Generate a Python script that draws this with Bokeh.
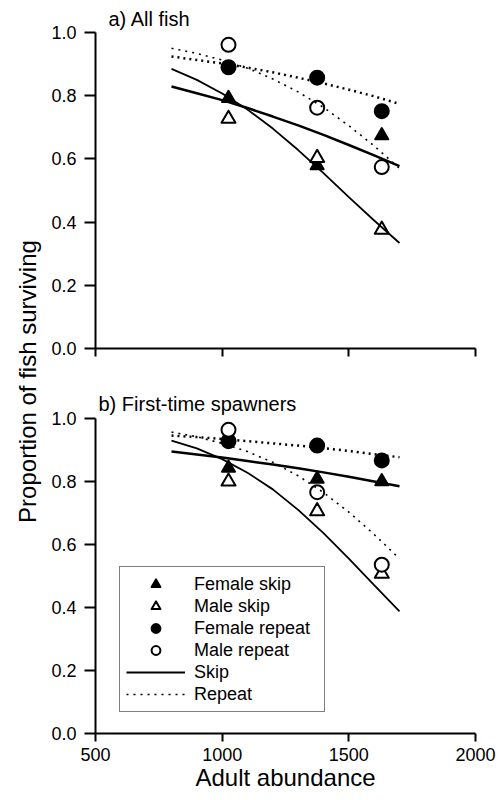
from bokeh.plotting import figure
from bokeh.layouts import row, column
from bokeh.models import Range1d, FixedTicker, Legend, LegendItem, Label
from bokeh.embed import file_html
from bokeh.resources import INLINE

FONT = "Liberation Sans"

x_ticks = [500, 1000, 1500, 2000]
x_tick_labels = ["500", "1000", "1500", "2000"]
y_ticks = [0.0, 0.2, 0.4, 0.6, 0.8, 1.0]
y_tick_labels = ["0.0", "0.2", "0.4", "0.6", "0.8", "1.0"]

# observed proportions
abundance = [1025, 1375, 1630]

a_female_skip = [0.792, 0.579, 0.674]
a_male_skip = [0.727, 0.603, 0.376]
a_female_repeat = [0.890, 0.857, 0.751]
a_male_repeat = [0.961, 0.762, 0.574]

b_female_skip = [0.843, 0.808, 0.800]
b_male_skip = [0.800, 0.706, 0.507]
b_female_repeat = [0.928, 0.914, 0.867]
b_male_repeat = [0.964, 0.766, 0.536]

# fitted curves
fit_x = [800, 900, 1000, 1100, 1200, 1300, 1400, 1500, 1600, 1700]

a_skip_fit_thick = [0.829, 0.808, 0.786, 0.761, 0.734, 0.706, 0.676, 0.644, 0.611, 0.577]
a_skip_fit_thin = [0.885, 0.850, 0.807, 0.756, 0.696, 0.628, 0.555, 0.479, 0.405, 0.334]
a_repeat_fit_thick = [0.924, 0.913, 0.902, 0.889, 0.874, 0.857, 0.839, 0.819, 0.798, 0.774]
a_repeat_fit_thin = [0.950, 0.934, 0.913, 0.887, 0.853, 0.812, 0.763, 0.705, 0.641, 0.570]

b_skip_fit_thick = [0.895, 0.886, 0.876, 0.865, 0.854, 0.842, 0.829, 0.815, 0.800, 0.785]
b_skip_fit_thin = [0.930, 0.905, 0.871, 0.828, 0.775, 0.710, 0.636, 0.555, 0.471, 0.388]
b_repeat_fit_thick = [0.946, 0.941, 0.935, 0.928, 0.921, 0.914, 0.906, 0.897, 0.887, 0.877]
b_repeat_fit_thin = [0.957, 0.942, 0.921, 0.895, 0.861, 0.818, 0.765, 0.703, 0.632, 0.555]

legend_labels = ["Female skip", "Male skip", "Female repeat", "Male repeat", "Skip", "Repeat"]


def panel(height, top, bottom, title, title_offset, title_standoff, show_xlabels):
    p = figure(width=455, height=height, x_range=Range1d(500, 2000), y_range=Range1d(0, 1),
               output_backend="svg", toolbar_location=None,
               min_border_left=50, min_border_right=25, min_border_top=top, min_border_bottom=bottom,
               title=title)
    p.title.text_font = FONT
    p.title.text_font_size = "20px"
    p.title.text_font_style = "normal"
    p.title.text_color = "black"
    p.title.align = "left"
    p.title.offset = title_offset
    p.title.standoff = title_standoff
    p.outline_line_color = None
    p.grid.visible = False
    p.background_fill_color = "white"
    p.border_fill_color = "white"

    p.xaxis.ticker = FixedTicker(ticks=x_ticks)
    p.yaxis.ticker = FixedTicker(ticks=y_ticks)
    p.yaxis.major_label_overrides = {t: l for t, l in zip(y_ticks, y_tick_labels)}
    for ax in (p.xaxis[0], p.yaxis[0]):
        ax.axis_line_width = 2
        ax.axis_line_color = "black"
        ax.major_tick_line_width = 2
        ax.major_tick_line_color = "black"
        ax.major_tick_in = 0
        ax.minor_tick_line_color = None
        ax.major_label_text_font = FONT
        ax.major_label_text_font_size = "18px"
        ax.major_label_text_color = "black"
    p.yaxis.major_tick_out = 11
    p.yaxis.major_label_standoff = 8
    p.xaxis.major_tick_out = 8
    p.xaxis.major_label_standoff = 6
    if show_xlabels:
        p.xaxis.major_label_overrides = {t: l for t, l in zip(x_ticks, x_tick_labels)}
    else:
        p.xaxis.major_label_overrides = {t: "" for t in x_ticks}
        p.xaxis.major_label_text_color = None
    return p


def draw(p, fs, ms, fr, mr, sk_thick, sk_thin, rp_thick, rp_thin):
    r_fs = p.scatter(abundance, fs, marker="triangle", size=13, fill_color="black", line_color="black",
                     line_width=2, line_join="round")
    r_ms = p.scatter(abundance, ms, marker="triangle", size=14, fill_color="white", line_color="black",
                     line_width=2, line_join="round")
    r_fr = p.scatter(abundance, fr, marker="circle", size=14, fill_color="black", line_color="black", line_width=2)
    r_mr = p.scatter(abundance, mr, marker="circle", size=14, fill_color="white", line_color="black", line_width=2)
    p.line(fit_x, sk_thick, line_color="black", line_width=2.5)
    l_sk2 = p.line(fit_x, sk_thin, line_color="black", line_width=1.8)
    p.line(fit_x, rp_thick, line_color="black", line_width=2.5, line_dash="2 4")
    l_rp2 = p.line(fit_x, rp_thin, line_color="black", line_width=1.6, line_dash="2 5")
    return r_fs, r_ms, r_fr, r_mr, l_sk2, l_rp2


p1 = panel(385, 32, 37, "a) All fish", 13, 5, False)
draw(p1, a_female_skip, a_male_skip, a_female_repeat, a_male_repeat,
     a_skip_fit_thick, a_skip_fit_thin, a_repeat_fit_thick, a_repeat_fit_thin)

p2 = panel(415, 33, 67, "b) First-time spawners", 3, 7, True)
rends = draw(p2, b_female_skip, b_male_skip, b_female_repeat, b_male_repeat,
             b_skip_fit_thick, b_skip_fit_thin, b_repeat_fit_thick, b_repeat_fit_thin)
p2.xaxis.axis_label = "Adult abundance"
p2.xaxis.axis_label_text_font = FONT
p2.xaxis.axis_label_text_font_size = "24px"
p2.xaxis.axis_label_text_font_style = "normal"
p2.xaxis.axis_label_text_color = "black"
p2.xaxis.axis_label_standoff = 0

legend = Legend(items=[LegendItem(label=l, renderers=[r]) for l, r in zip(legend_labels, rends)],
                location=(24, 21), margin=0, padding=6, spacing=0,
                glyph_height=22, glyph_width=59, label_standoff=9, label_width=124, label_height=20,
                label_text_font=FONT, label_text_font_size="18px", label_text_color="black",
                border_line_color="black", border_line_width=1.5,
                background_fill_color="white", background_fill_alpha=1.0)
p2.add_layout(legend)

# shared y-axis title
lab = figure(width=45, height=800, x_range=Range1d(0, 45), y_range=Range1d(0, 800),
             output_backend="svg", toolbar_location=None,
             min_border_left=0, min_border_right=0, min_border_top=0, min_border_bottom=0)
lab.axis.visible = False
lab.grid.visible = False
lab.outline_line_color = None
lab.add_layout(Label(x=27, y=419, text="Proportion of fish surviving", angle=90, angle_units="deg",
                     text_align="center", text_baseline="middle", text_font=FONT,
                     text_font_size="24px", text_color="black"))

layout = row(lab, column(p1, p2))
open("out.html", "w").write(file_html(layout, INLINE))
